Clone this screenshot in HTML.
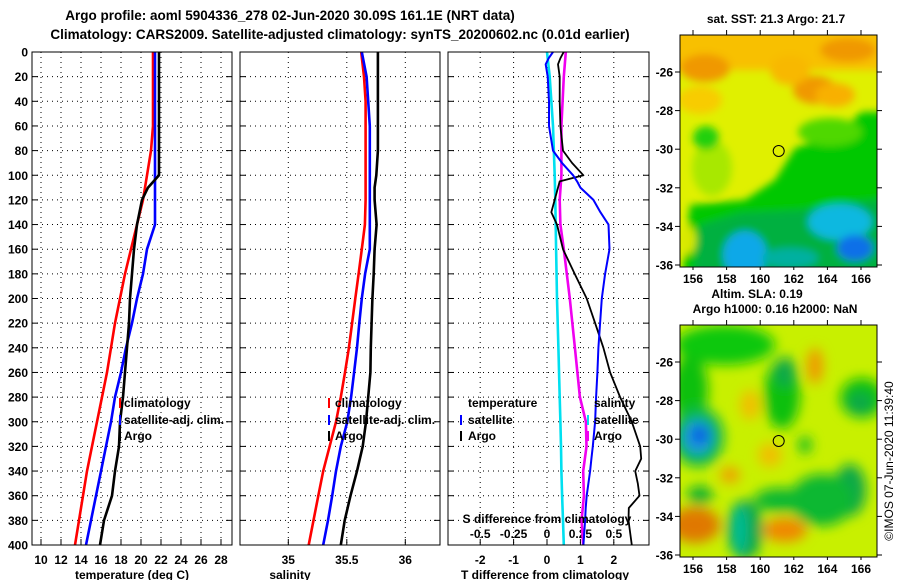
<!DOCTYPE html>
<html><head><meta charset="utf-8"><style>
html,body{margin:0;padding:0;background:#fff;}
svg{display:block;font-family:"Liberation Sans",sans-serif;font-weight:bold;}
</style></head><body>
<svg id="chart" width="900" height="580" viewBox="0 0 900 580" xmlns="http://www.w3.org/2000/svg">
<defs>
<filter id="bl" x="-20%" y="-20%" width="140%" height="140%"><feGaussianBlur stdDeviation="4"/></filter>
<filter id="bl2" x="-20%" y="-20%" width="140%" height="140%"><feGaussianBlur stdDeviation="6"/></filter>
<clipPath id="c1"><rect x="680" y="35" width="197" height="232"/></clipPath>
<clipPath id="c2"><rect x="680" y="325" width="197" height="232"/></clipPath>
</defs>
<text x="290" y="20" font-size="13.5" text-anchor="middle">Argo profile: aoml 5904336_278 02-Jun-2020 30.09S 161.1E (NRT data)</text>
<text x="340" y="39" font-size="13.5" text-anchor="middle">Climatology: CARS2009. Satellite-adjusted climatology: synTS_20200602.nc (0.01d earlier)</text>

<!-- SST map -->
<g clip-path="url(#c1)">
<rect x="680" y="35" width="197" height="232" fill="#e0f000"/>
<g filter="url(#bl)">
<rect x="670" y="25" width="220" height="45" fill="#f8c000"/>
<ellipse cx="705" cy="68" rx="25" ry="14" fill="#f09800"/>
<ellipse cx="848" cy="50" rx="28" ry="12" fill="#f09800"/>
<ellipse cx="815" cy="90" rx="22" ry="14" fill="#f09800"/>
<ellipse cx="790" cy="70" rx="20" ry="15" fill="#f8b800"/>
<ellipse cx="700" cy="100" rx="22" ry="14" fill="#f8cc00"/>
<ellipse cx="835" cy="95" rx="20" ry="12" fill="#f8b000"/>
<polygon points="900,112 862,112 835,135 795,148 775,180 745,200 690,205 680,300 900,300" fill="#00c800"/>
<ellipse cx="712" cy="168" rx="20" ry="28" fill="#a8e800"/>
<ellipse cx="706" cy="138" rx="13" ry="12" fill="#20d010"/>
<ellipse cx="830" cy="132" rx="32" ry="14" fill="#50d800"/>
<polygon points="700,225 740,213 800,210 840,203 900,198 900,300 690,300" fill="#00b040"/>
<ellipse cx="840" cy="222" rx="32" ry="18" fill="#08b8e0"/>
<ellipse cx="855" cy="248" rx="18" ry="13" fill="#1070e8"/>
<ellipse cx="745" cy="255" rx="22" ry="24" fill="#10a8e8"/>
<ellipse cx="790" cy="258" rx="28" ry="10" fill="#00b0a0"/>
<ellipse cx="688" cy="240" rx="8" ry="14" fill="#d8e800"/>
</g>
</g>
<rect x="680" y="35" width="197" height="232" fill="none" stroke="#000"/>
<!-- SLA map -->
<g clip-path="url(#c2)">
<rect x="680" y="325" width="197" height="232" fill="#c8f000"/>
<g filter="url(#bl2)">
<ellipse cx="725" cy="345" rx="50" ry="20" fill="#10c810"/>
<ellipse cx="690" cy="390" rx="18" ry="35" fill="#10c010"/>
<ellipse cx="782" cy="395" rx="18" ry="34" fill="#10c010"/>
<ellipse cx="785" cy="372" rx="11" ry="15" fill="#10a848"/>
<ellipse cx="862" cy="398" rx="22" ry="20" fill="#10c010"/>
<ellipse cx="860" cy="403" rx="12" ry="11" fill="#10a848"/>
<ellipse cx="698" cy="437" rx="26" ry="30" fill="#10b848"/>
<ellipse cx="698" cy="437" rx="15" ry="17" fill="#1898e0"/>
<ellipse cx="700" cy="435" rx="8" ry="8" fill="#1050e0"/>
<ellipse cx="850" cy="490" rx="16" ry="26" fill="#10a848"/>
<ellipse cx="822" cy="500" rx="32" ry="26" fill="#10b830"/>
<ellipse cx="780" cy="500" rx="26" ry="12" fill="#10b830"/>
<ellipse cx="745" cy="530" rx="18" ry="30" fill="#10a848"/>
<ellipse cx="740" cy="530" rx="6" ry="25" fill="#00c0a0"/>
<ellipse cx="700" cy="495" rx="13" ry="9" fill="#10b030"/>
<ellipse cx="815" cy="366" rx="8" ry="18" fill="#f09800"/>
<ellipse cx="750" cy="405" rx="10" ry="15" fill="#f0c000"/>
<ellipse cx="770" cy="455" rx="12" ry="12" fill="#f0c000"/>
<ellipse cx="730" cy="475" rx="10" ry="8" fill="#f0a000"/>
<ellipse cx="695" cy="525" rx="25" ry="18" fill="#e07800"/>
<ellipse cx="785" cy="530" rx="22" ry="12" fill="#f08800"/>
<ellipse cx="805" cy="445" rx="7" ry="9" fill="#20c020"/>
</g>
</g>
<rect x="680" y="325" width="197" height="232" fill="none" stroke="#000"/>
<circle cx="778.7" cy="151" r="5.5" fill="none" stroke="#000"/>
<circle cx="778.7" cy="441" r="5.5" fill="none" stroke="#000"/>
<text x="776" y="23" font-size="12" text-anchor="middle">sat. SST: 21.3 Argo: 21.7</text>
<text x="757" y="298" font-size="12" text-anchor="middle">Altim. SLA: 0.19</text>
<text x="775" y="313" font-size="12" text-anchor="middle">Argo h1000: 0.16 h2000: NaN</text>
<text transform="translate(893,461) rotate(-90)" font-size="12" font-weight="normal" text-anchor="middle">©IMOS 07-Jun-2020 11:39:40</text>
<g id="plots"></g>
</svg>
<script>
// ---- data ----
const depths = [0,20,40,60,80,100,110,120,140,160,180,200,220,240,260,280,300,320,340,360,380,400];
const tempClim = [21.2,21.2,21.2,21.2,21.0,20.6,20.4,20.2,19.6,19.0,18.4,17.9,17.4,17.0,16.6,16.1,15.6,15.1,14.6,14.2,13.8,13.4];
const tempSat  = [21.4,21.4,21.4,21.4,21.4,21.4,21.4,21.4,21.4,20.6,20.2,19.6,19.1,18.5,18.0,17.4,17.0,16.5,16.0,15.5,15.0,14.5];
const tempArgo = [21.8,21.8,21.8,21.8,21.8,21.8,20.7,20.1,19.6,19.3,19.1,18.9,18.8,18.6,18.4,18.2,17.9,17.8,17.4,17.1,16.3,15.9];
const salClim = [35.623,35.647,35.661,35.661,35.661,35.661,35.661,35.661,35.655,35.628,35.601,35.573,35.545,35.518,35.485,35.449,35.408,35.353,35.298,35.256,35.215,35.174];
const salSat  = [35.628,35.669,35.683,35.697,35.697,35.697,35.697,35.697,35.697,35.697,35.656,35.628,35.607,35.587,35.562,35.537,35.504,35.449,35.408,35.375,35.339,35.298];
const salArgo = [35.766,35.766,35.766,35.766,35.766,35.752,35.738,35.738,35.755,35.738,35.730,35.719,35.712,35.705,35.702,35.683,35.664,35.636,35.587,35.532,35.482,35.449];
const diffDepthsT = [0,5,10,20,40,60,80,90,100,105,110,120,130,140,160,180,200,220,240,260,280,300,320,330,340,350,360,370,380,400];
const dTSat  = [0.18,0.05,-0.04,0.02,0.06,0.06,0.18,0.45,0.78,0.9,1.0,1.39,1.6,1.84,1.87,1.74,1.64,1.59,1.54,1.51,1.47,1.44,1.37,1.33,1.29,1.24,1.19,1.16,1.14,1.09];
const dTArgo = [0.5,0.4,0.33,0.38,0.38,0.4,0.48,0.75,1.09,0.38,0.33,0.23,0.13,0.3,0.48,0.83,1.19,1.44,1.69,1.89,2.19,2.54,2.79,2.82,2.64,2.72,2.77,2.45,2.44,2.54];
const diffDepthsS = [0,20,60,100,120,140,160,200,240,280,300,320,340,360,380,400];
const dSArgo = [0.141,0.126,0.108,0.108,0.095,0.1,0.126,0.171,0.209,0.246,0.291,0.296,0.271,0.276,0.259,0.271];
const dSSat  = [0,0.02,0.045,0.058,0.062,0.065,0.068,0.075,0.085,0.095,0.1,0.105,0.108,0.113,0.12,0.126];
const depthTicks = [0,20,40,60,80,100,120,140,160,180,200,220,240,260,280,300,320,340,360,380,400];
const tempTicks = [10,12,14,16,18,20,22,24,26,28];
const salTicks = [35,35.5,36];
const dTTicks = [-2,-1,0,1,2];
const dSTicks = [-0.5,-0.25,0,0.25,0.5];
const dSTickLabels = ['-0.5','-0.25','0','0.25','0.5'];
const lonTicks = [156,158,160,162,164,166];
const latTicks = [-26,-28,-30,-32,-34,-36];

// ---- axes ----
const TOP=52, BOT=545;
const yD = d => TOP + d*(BOT-TOP)/400;
const xT = t => 41 + (t-10)*10;
const xS = s => 288.3 + (s-35)*117;
const xdT = t => 547 + t*33.4;
const xdS = s => 547 + s*133.6;
const xLon = l => 693 + (l-156)*16.8;
const yLat1 = l => 72 + (-26-l)*19.3;
const yLat2 = l => 362 + (-26-l)*19.3;

const NS='http://www.w3.org/2000/svg';
const G=document.getElementById('plots');
function mk(tag, attrs, parent){const e=document.createElementNS(NS,tag);for(const k in attrs)e.setAttribute(k,attrs[k]);(parent||G).appendChild(e);return e;}
function txt(s, attrs, parent){const e=mk('text',attrs,parent);e.textContent=s;return e;}

const panels=[{x0:32,x1:232,name:'temperature-panel'},{x0:240,x1:440,name:'salinity-panel'},{x0:448,x1:649,name:'difference-panel'}];
panels.forEach((p,i)=>{
  const g=mk('g',{});
  
  
  p.g=g;
  depthTicks.forEach(d=>{
    if(d===0||d===400) return;
    const l=mk('line',{x1:p.x0,x2:p.x1,y1:yD(d),y2:yD(d),stroke:'#000','stroke-width':1,'stroke-dasharray':'1,4'},g);
    
    
    mk('line',{x1:p.x0,x2:p.x0+6,y1:yD(d),y2:yD(d),stroke:'#000'},g);
    mk('line',{x1:p.x1-6,x2:p.x1,y1:yD(d),y2:yD(d),stroke:'#000'},g);
  });
});
function vgrid(g,x){
  const l=mk('line',{x1:x,x2:x,y1:TOP,y2:BOT,stroke:'#000','stroke-dasharray':'1,4'},g);
  
  
  mk('line',{x1:x,x2:x,y1:BOT-6,y2:BOT,stroke:'#000'},g);
}
tempTicks.forEach(t=>{vgrid(panels[0].g,xT(t));
  const e=txt(String(t),{x:xT(t),y:564,'font-size':12,'text-anchor':'middle'},panels[0].g);
  
  });
salTicks.forEach(t=>{vgrid(panels[1].g,xS(t));
  const e=txt(String(t),{x:xS(t),y:564,'font-size':12,'text-anchor':'middle'},panels[1].g);
  
  });
dTTicks.forEach(t=>{vgrid(panels[2].g,xdT(t));
  const e=txt(String(t),{x:xdT(t),y:564,'font-size':12,'text-anchor':'middle'},panels[2].g);
  
  });
dSTicks.forEach((t,i)=>{
  const e=txt(dSTickLabels[i],{x:xdS(t),y:538,'font-size':12,'text-anchor':'middle'},panels[2].g);
  
  });
depthTicks.forEach(d=>{
  const e=txt(String(d),{x:28,y:yD(d)+4.5,'font-size':12,'text-anchor':'end'});
  
  
});
function line(g,xs,ys,fx,color,name,w){
  const pts=xs.map((v,i)=>fx(v).toFixed(1)+','+yD(ys[i]).toFixed(1)).join(' ');
  const pl=mk('polyline',{points:pts,fill:'none',stroke:color,'stroke-width':w||2.6,'stroke-linejoin':'round'},g);
  
  
}
line(panels[0].g,tempClim,depths,xT,'#f00','temperature-climatology-line');
line(panels[0].g,tempSat,depths,xT,'#00f','temperature-satellite-line');
line(panels[0].g,tempArgo,depths,xT,'#000','temperature-argo-line');
line(panels[1].g,salClim,depths,xS,'#f00','salinity-climatology-line');
line(panels[1].g,salSat,depths,xS,'#00f','salinity-satellite-line');
line(panels[1].g,salArgo,depths,xS,'#000','salinity-argo-line');
line(panels[2].g,dSSat,diffDepthsS,xdS,'#00e0f0','s-diff-satellite-line');
line(panels[2].g,dSArgo,diffDepthsS,xdS,'#f000f0','s-diff-argo-line');
line(panels[2].g,dTArgo,diffDepthsT,xdT,'#000','t-diff-argo-line',1.8);
line(panels[2].g,dTSat,diffDepthsT,xdT,'#00f','t-diff-satellite-line',2);
panels.forEach(p=>{const r=mk('rect',{x:p.x0,y:TOP,width:p.x1-p.x0,height:BOT-TOP,fill:'none',stroke:'#000'},p.g);
  
  });

function legend(g,x,y,color,label,mx){
  const m=mk('line',{x1:mx,x2:mx,y1:y-9,y2:y+1,stroke:color,'stroke-width':2},g);
  
  
  if(label){const t=txt(label,{x:x,y:y,'font-size':12},g);
  
  }
}
legend(panels[0].g,124,407,'#f00','climatology',120);
legend(panels[0].g,124,424,'#00f','satellite-adj. clim.',120);
legend(panels[0].g,124,440,'#000','Argo',120);
legend(panels[1].g,335,407,'#f00','climatology',329);
legend(panels[1].g,335,424,'#00f','satellite-adj. clim.',329);
legend(panels[1].g,335,440,'#000','Argo',329);
let t1=txt('temperature',{x:468,y:407,'font-size':12},panels[2].g);


legend(panels[2].g,468,424,'#00f','satellite',461);
legend(panels[2].g,468,440,'#000','Argo',461);
let t2=txt('salinity',{x:594,y:407,'font-size':12},panels[2].g);


legend(panels[2].g,594,424,'#00e0f0','satellite',588);
legend(panels[2].g,594,440,'#f000f0','Argo',588);
let t3=txt('S difference from climatology',{x:547,y:523,'font-size':12,'text-anchor':'middle'},panels[2].g);



const titles=[['temperature (deg C)',132,'temperature-axis-title'],['salinity',290,'salinity-axis-title'],['T difference from climatology',545,'t-diff-axis-title']];
titles.forEach(a=>{const e=txt(a[0],{x:a[1],y:579,'font-size':12,'text-anchor':'middle'});
  
  });

// map axes
[[35,267,yLat1,283,'sst'],[325,557,yLat2,573,'sla']].forEach(m=>{
  lonTicks.forEach(l=>{
    mk('line',{x1:xLon(l),x2:xLon(l),y1:m[0]-5,y2:m[0],stroke:'#000'});
    mk('line',{x1:xLon(l),x2:xLon(l),y1:m[1],y2:m[1]+3,stroke:'#000'});
    const e=txt(String(l),{x:xLon(l),y:m[3],'font-size':12,'text-anchor':'middle'});
    
    
  });
  latTicks.forEach(l=>{
    const y=m[2](l);
    mk('line',{x1:877,x2:882,y1:y,y2:y,stroke:'#000'});
    mk('line',{x1:675,x2:680,y1:y,y2:y,stroke:'#000'});
    const e=txt(String(l),{x:673,y:y+4.5,'font-size':12,'text-anchor':'end'});
    
    
  });
});
</script>
</body></html>
